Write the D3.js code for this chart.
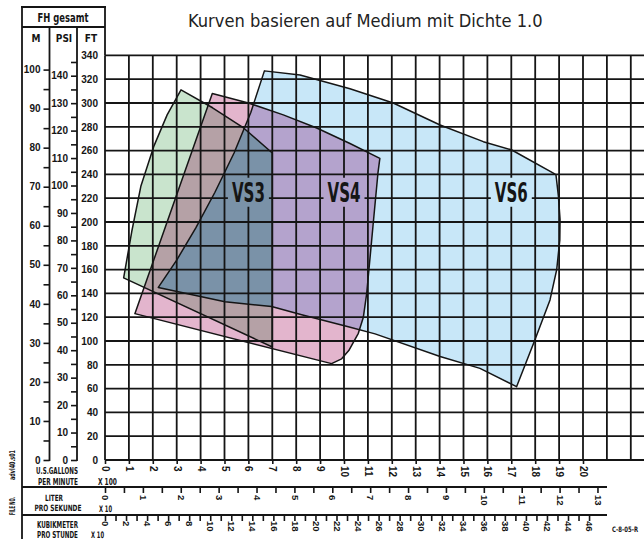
<!DOCTYPE html>
<html><head><meta charset="utf-8">
<script src="https://cdn.jsdelivr.net/npm/d3@7"></script>
<style>
html,body{margin:0;padding:0;background:#fff;}
svg{display:block;font-family:"Liberation Sans Narrow","DejaVu Sans Condensed","Liberation Sans",sans-serif;}
</style></head><body>
<svg id="chart" width="644" height="539"></svg>
<script>
// ---------- data ----------
const title = "Kurven basieren auf Medium mit Dichte 1.0";
const seriesNames = ["VS3", "VS4", "VS6"];
// polygon outlines: [US gpm, head ft]
const vs3 = [[318,311],[450,296],[580,279],[700,258],[700,95],[78,153],[98,176],[112,192],[150,230],[205,264],[260,290]];
const vs4 = [[449,308],[600,300],[746,290],[886,279],[1025,266],[1150,253.5],[1142,241],[1121,196],[1095,140],[1081,120],[1060,106.5],[1020,92],[990,85],[948,81],[125,123]];
const vs6 = [[667,327],[816,323.5],[1025,312],[1206,300],[1402,281.5],[1583,267.5],[1702,260.5],[1876,241],[1887,239.5],[1897,222],[1904,202],[1903,185],[1890,160],[1862,134.5],[1799,101],[1722,61.6],[1569,77],[1402,87],[1130,106],[1018,112],[823,122],[697,129],[502,133],[223,145],[300,168],[380,195],[460,225],[540,258],[610,292]];
const labelFlow = [600, 1000, 1700];
const labelHead = [225, 225, 225];
// axis tick values
const gallonsTicks = d3.range(0, 21);          // x 100 US gpm
const literTicks = d3.range(0, 13.01, 0.5);    // x 10 l/s
const kubikTicks = d3.range(0, 47, 1);         // x 10 m3/h
const mTicks = d3.range(0, 101, 5);
const psiTicks = d3.range(0, 146, 5);
const ftTicks = d3.range(0, 341, 20);

// ---------- scales ----------
const x = d3.scaleLinear().domain([0, 2000]).range([105, 583]);
const y = d3.scaleLinear().domain([0, 340]).range([460, 55.4]);
const FT_PER_M = 3.28084, FT_PER_PSI = 2.30666, GPM_PER_LPS = 15.8503, GPM_PER_M3H = 4.40287;
const yM = d3.scaleLinear().domain([0, 100]).range([y(0), y(100 * FT_PER_M)]);
const yPsi = d3.scaleLinear().domain([0, 100]).range([y(0), y(100 * FT_PER_PSI)]);
const xLiter = d3.scaleLinear().domain([0, 13]).range([x(0), x(130 * GPM_PER_LPS)]);
const xKubik = d3.scaleLinear().domain([0, 46]).range([x(0), x(460 * GPM_PER_M3H)]);

const svg = d3.select("#chart");
const ink = "#151515";
const defs = svg.append("defs");
const line = d3.line().x(d => x(d[0])).y(d => y(d[1]));
const pathOf = pts => line(pts) + "Z";

// clip paths
[["c3", vs3], ["c4", vs4], ["c6", vs6]].forEach(([id, pts]) => {
  defs.append("clipPath").attr("id", id).append("path").attr("d", pathOf(pts));
});

// ---------- fills ----------
const fills = svg.append("g");
fills.append("path").attr("d", pathOf(vs3)).attr("fill", "#c9e4cd");
fills.append("path").attr("d", pathOf(vs4)).attr("fill", "#e3b5cd");
fills.append("path").attr("d", pathOf(vs6)).attr("fill", "#c8e7f8");
fills.append("path").attr("d", pathOf(vs3)).attr("fill", "#b5a1a6").attr("clip-path", "url(#c4)");
fills.append("path").attr("d", pathOf(vs6)).attr("fill", "#b4a3cd").attr("clip-path", "url(#c4)");
fills.append("g").attr("clip-path", "url(#c4)")
  .append("path").attr("d", pathOf(vs3)).attr("fill", "#7a92a8").attr("clip-path", "url(#c6)");

// ---------- label metrics / grid mask ----------
const labelW = 33, labelCap = 19;
const mask = defs.append("mask").attr("id", "gridmask").attr("maskUnits", "userSpaceOnUse")
  .attr("x", 0).attr("y", 0).attr("width", 644).attr("height", 539);
mask.append("rect").attr("width", 644).attr("height", 539).attr("fill", "#fff");
labelFlow.forEach((f, i) => {
  mask.append("rect").attr("x", x(f) - labelW / 2 - 4).attr("y", y(labelHead[i]) - labelCap / 2 - 5)
    .attr("width", labelW + 8).attr("height", labelCap + 10).attr("fill", "#000");
});

// ---------- grid ----------
const grid = svg.append("g").attr("mask", "url(#gridmask)").attr("stroke", ink).attr("stroke-width", 1.8);
grid.selectAll("line.v").data(d3.range(0, 2201, 100)).join("line")
  .attr("x1", d => x(d)).attr("x2", d => x(d)).attr("y1", y(340)).attr("y2", y(0));
grid.selectAll("line.h").data(ftTicks).join("line")
  .attr("x1", x(0)).attr("x2", 644).attr("y1", d => y(d)).attr("y2", d => y(d));

// ---------- outlines ----------
svg.append("g").selectAll("path").data([vs3, vs4, vs6]).join("path")
  .attr("d", pathOf).attr("fill", "none").attr("stroke", ink).attr("stroke-width", 1.5).attr("stroke-linejoin", "round");

// ---------- fitted text helper (scales horizontally to a target width) ----------
const txt = (t, xx, yy, size, opts = {}) => {
  const e = svg.append("text").attr("x", 0).attr("y", 0).attr("font-size", size)
    .attr("font-weight", opts.weight || "bold").attr("fill", opts.fill || ink)
    .attr("text-anchor", opts.anchor || "middle").text(t);
  let sx = 1;
  if (opts.len) {
    const nat = e.node().getComputedTextLength();
    if (nat > 0) sx = opts.len / nat;
  }
  e.attr("transform", `translate(${xx},${yy})` + (opts.rot ? ` rotate(${opts.rot})` : "") + ` scale(${sx},1)`);
  return e;
};

// ---------- series labels ----------
seriesNames.forEach((d, i) => {
  txt(d, x(labelFlow[i]), y(labelHead[i]) + labelCap / 2, 26, {len: labelW});
});

// ---------- title ----------
txt(title, 188, 27.3, 18, {anchor: "start", weight: "normal", len: 355, fill: "#222"});

// ---------- left panel frame ----------
const frame = svg.append("g").attr("stroke", ink).attr("stroke-width", 1.8).attr("fill", "none");
frame.append("line").attr("x1", 22).attr("x2", 22).attr("y1", 6).attr("y2", 539);
frame.append("line").attr("x1", 105).attr("x2", 105).attr("y1", 6).attr("y2", y(340));
frame.append("line").attr("x1", 21).attr("x2", 106).attr("y1", 7).attr("y2", 7);
frame.append("line").attr("x1", 22).attr("x2", 105).attr("y1", 27).attr("y2", 27);
frame.append("line").attr("x1", 49.5).attr("x2", 49.5).attr("y1", 27).attr("y2", y(0) + 1);
frame.append("line").attr("x1", 77).attr("x2", 77).attr("y1", 27).attr("y2", y(0) + 1);
frame.append("line").attr("x1", 22).attr("x2", 607).attr("y1", 487).attr("y2", 487);
frame.append("line").attr("x1", 22).attr("x2", 607).attr("y1", 515).attr("y2", 515);

txt("FH gesamt", 63, 21.5, 12, {len: 51});
txt("M", 36, 42, 10);
txt("PSI", 64, 42, 10);
txt("FT", 91, 42, 10);

// ---------- vertical axes ----------
function styleAxis(g, size) {
  g.select(".domain").remove();
  g.selectAll(".tick line").attr("stroke", ink).attr("stroke-width", 1.6);
  g.selectAll(".tick text").attr("fill", ink).attr("font-size", size).attr("font-weight", "bold")
    .attr("font-family", null);
}
svg.append("g").attr("transform", "translate(49.5,0)")
  .call(d3.axisLeft(yM).tickValues(mTicks).tickFormat(d => d % 10 === 0 ? d : "").tickSize(6).tickPadding(3))
  .call(g => styleAxis(g, 10));
svg.append("g").attr("transform", "translate(77,0)")
  .call(d3.axisLeft(yPsi).tickValues(psiTicks).tickFormat(d => d % 10 === 0 ? d : "").tickSize(6).tickPadding(3))
  .call(g => styleAxis(g, 10));
svg.append("g").attr("transform", "translate(105,0)")
  .call(d3.axisLeft(y).tickValues(ftTicks).tickSize(0).tickPadding(7))
  .call(g => styleAxis(g, 10));

// ---------- horizontal axes ----------
function rotLabels(g, off, size) {
  g.selectAll(".tick text").attr("transform", "rotate(90)").attr("y", 0).attr("x", off)
    .attr("dy", "0.35em").style("text-anchor", "start");
  styleAxis(g, size);
}
svg.append("g").attr("transform", `translate(0,${y(0)})`)
  .call(d3.axisBottom(x).tickValues(gallonsTicks.map(d => d * 100)).tickFormat(d => d / 100).tickSize(4))
  .call(g => rotLabels(g, 6, 10));
svg.append("g").attr("transform", "translate(0,487)")
  .call(d3.axisBottom(xLiter).tickValues(literTicks).tickFormat(d => Number.isInteger(d) ? d : "").tickSize(6))
  .call(g => rotLabels(g, 8, 9.5));
svg.append("g").attr("transform", "translate(0,515)")
  .call(d3.axisBottom(xKubik).tickValues(kubikTicks).tickFormat(d => d % 2 === 0 ? d : "").tickSize(6))
  .call(g => rotLabels(g, 6, 9.5));

// ---------- unit labels ----------
txt("U.S.GALLONS", 57, 474, 9.5, {len: 42});
txt("PER MINUTE", 58, 484.5, 9.5, {len: 40});
txt("X 100", 98, 485, 9.5, {anchor: "start", len: 19});
txt("LITER", 54, 500.5, 8.7, {len: 18});
txt("PRO SEKUNDE", 58, 511, 8.7, {len: 47});
txt("X 10", 99, 512, 9, {anchor: "start", len: 13});
txt("KUBIKMETER", 57.5, 527.5, 9.5, {len: 41});
txt("PRO STUNDE", 57.5, 538, 9.5, {len: 41});
txt("X 10", 91, 538, 9, {anchor: "start", len: 13});
txt("FILE NO.", 15, 506, 8, {rot: -90, len: 18});
txt("advl40.s01", 15, 465, 8, {rot: -90, len: 30});
txt("C-8-05-R", 638, 532, 7.5, {anchor: "end", len: 26});
</script>
</body></html>
